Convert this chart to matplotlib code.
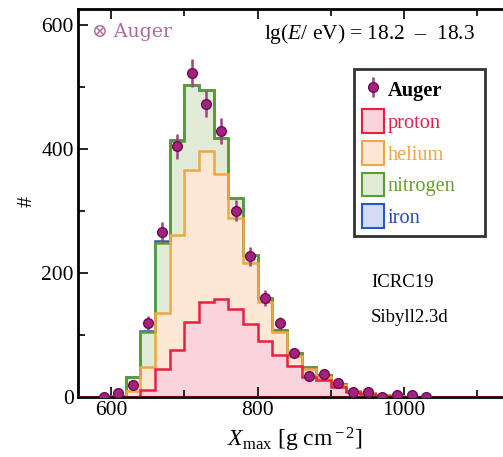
import numpy as np
import matplotlib
matplotlib.use("Agg")
import matplotlib.pyplot as plt
from matplotlib.patches import Patch
from matplotlib.ticker import MultipleLocator, FuncFormatter

plt.rcParams['font.family'] = ['Liberation Serif', 'DejaVu Serif']
plt.rcParams['mathtext.fontset'] = 'custom'
plt.rcParams['mathtext.rm'] = 'Liberation Serif'
plt.rcParams['mathtext.it'] = 'Liberation Serif:italic'

# histogram bins (g/cm2), 20 wide
bin_edges = np.arange(560, 1201, 20)
# per-component counts, bins centred at 570, 590, ..., 1190
proton = [0, 0, 0, 0, 12, 45, 76, 121, 153, 159, 143, 118, 91, 68, 50, 33,
          27, 16, 8, 5, 2, 1, 1, 0, 0, 0, 0, 0, 0, 0, 0, 0]
helium = [0, 0, 0, 10, 37, 90, 186, 246, 244, 201, 146, 98, 63, 37, 17, 12,
          6, 4, 2, 1, 1, 1, 0, 0, 0, 0, 0, 0, 0, 0, 0, 0]
nitrogen = [0, 0, 2, 22, 56, 114, 151, 136, 98, 58, 32, 14, 6, 4, 4, 3,
            2, 1, 0, 0, 0, 0, 0, 0, 0, 0, 0, 0, 0, 0, 0, 0]
iron = [0, 0, 0, 0, 2, 3, 2, 0, 0, 0, 0, 0, 0, 0, 0, 0,
        0, 0, 0, 0, 0, 0, 0, 0, 0, 0, 0, 0, 0, 0, 0, 0]

# Auger data points
auger_x = [590, 610, 630, 650, 670, 690, 710, 730, 750, 770, 790, 810,
           830, 850, 870, 890, 910, 930, 950, 970, 990, 1010, 1030]
auger_n = [1, 6, 19, 120, 267, 405, 523, 473, 429, 301, 227, 160,
           119, 71, 34, 38, 23, 8, 9, 1, 3, 3, 0]
auger_err = [1, 2.4, 4.4, 11, 16.3, 20.1, 22.9, 21.7, 20.7, 17.3, 15.1, 12.6,
             10.9, 8.4, 5.8, 6.2, 4.8, 2.8, 3, 1, 1.7, 1.7, 0]

names = ['proton', 'helium', 'nitrogen', 'iron']
line_cols = ['#e8203f', '#f2a545', '#5c9e2e', '#2a55c8']
fill_cols = ['#fbd3dc', '#fde8d6', '#e1ebd5', '#d2ddf3']
text_cols = ['#e02050', '#f0a24a', '#66a030', '#2a48b0']

fig = plt.figure(figsize=(5.03, 4.57), dpi=100)
ax = fig.add_axes([0.155, 0.131, 0.94, 0.849])

comps = [np.array(proton), np.array(helium), np.array(nitrogen), np.array(iron)]
tops = np.cumsum(comps, axis=0)
bases = np.vstack([np.zeros(len(proton)), tops[:-1]])

for i in range(4):
    ax.stairs(tops[i], bin_edges, baseline=bases[i], fill=True,
              color=fill_cols[i], lw=0, zorder=1)
for i in [3, 2, 1, 0]:
    ax.stairs(tops[i], bin_edges, baseline=None, color=line_cols[i],
              lw=1.8, zorder=2 + (3 - i))

ax.axhline(0, color='#5a1010', lw=2.2, zorder=6)

eb = ax.errorbar(auger_x, auger_n, yerr=auger_err, fmt='o', ms=7,
                 mfc='#a3217f', mec='#6b1050', mew=1.0, ecolor='#a04080',
                 elinewidth=1.8, capsize=0, zorder=10)

ax.set_xlim(555, 1200)
ax.set_ylim(0, 626)
ax.xaxis.set_major_locator(MultipleLocator(200))
ax.xaxis.set_minor_locator(MultipleLocator(100))
ax.xaxis.set_major_formatter(FuncFormatter(lambda v, p: '%d' % v if v < 1100 else ''))
ax.yaxis.set_major_locator(MultipleLocator(200))
ax.yaxis.set_minor_locator(MultipleLocator(100))
ax.tick_params(which='both', direction='in', top=True, right=True,
               labelsize=15.5, width=1.2, pad=3)
ax.tick_params(which='major', length=7)
ax.tick_params(which='minor', length=5)
for s in ax.spines.values():
    s.set_linewidth(2)

ax.set_xlabel(r'$X_{\rm max}$ [g cm$^{\rm -2}$]', fontsize=17, labelpad=2)
ax.xaxis.set_label_coords(0.458, -0.075)
ax.set_ylabel('#', fontsize=16)
ax.yaxis.set_label_coords(-0.088, 0.505)

ax.text(0.03, 0.965, '⊗ Auger', transform=ax.transAxes, fontsize=13.6,
        color='#b06a9e', va='top', ha='left',
        family=['DejaVu Serif', 'Liberation Serif'])
ax.text(0.393, 0.968, 'lg($E$/ eV) = 18.2  \u2013  18.3', transform=ax.transAxes,
        fontsize=15.4, va='top', ha='left')
ax.text(0.62, 0.295, 'ICRC19', transform=ax.transAxes, fontsize=13.5, va='center')
ax.text(0.62, 0.204, 'Sibyll2.3d', transform=ax.transAxes, fontsize=13.5, va='center')

handles = [eb] + [Patch(facecolor=fill_cols[i], edgecolor=line_cols[i], lw=1.5)
                  for i in range(4)]
labels = ['Auger'] + names
leg = ax.legend(handles, labels, loc='upper left',
                bbox_to_anchor=(0.5835, 0.0, 0.277, 0.845), mode='expand',
                fontsize=14.7, frameon=True, fancybox=False, handlelength=1.1,
                handleheight=1.4, handletextpad=0.15, borderpad=0.4,
                labelspacing=0.4, borderaxespad=0)
leg.get_frame().set_edgecolor('black')
leg.get_frame().set_linewidth(2)
txts = leg.get_texts()
txts[0].set_fontweight('bold')
for t, c in zip(txts[1:], text_cols):
    t.set_color(c)

fig.savefig('out.png', dpi=100)
